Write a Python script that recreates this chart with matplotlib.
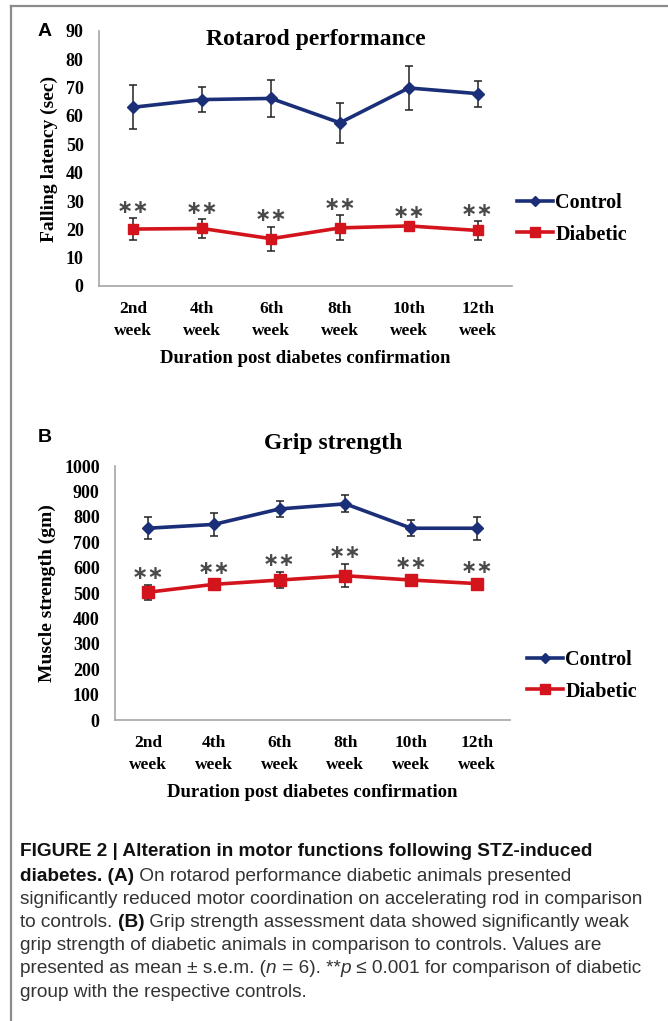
import matplotlib
matplotlib.use("Agg")
import matplotlib.pyplot as plt
from matplotlib.lines import Line2D

# data (mean, s.e.m.)
weeks = ["2nd\nweek", "4th\nweek", "6th\nweek", "8th\nweek", "10th\nweek", "12th\nweek"]

rota_control = [63.1, 65.8, 66.2, 57.6, 69.9, 67.9]
rota_control_err = [7.8, 4.5, 6.4, 7.0, 7.8, 4.6]
rota_diabetic = [20.1, 20.3, 16.7, 20.5, 21.2, 19.6]
rota_diabetic_err = [3.8, 3.2, 4.2, 4.4, 1.0, 3.3]

grip_control = [755, 770, 831, 851, 755, 755]
grip_control_err = [43, 45, 32, 34, 31, 45]
grip_diabetic = [503, 534, 551, 568, 551, 537]
grip_diabetic_err = [30, 18, 30, 45, 20, 20]

CONTROL_COLOR = "#1a2f78"
DIABETIC_COLOR = "#d3141c"
SERIF = "Liberation Serif"
CAPTION_FONT = "Liberation Sans"
CAPTION_SIZE = 13.7

caption_lines = [
    [("FIGURE 2 | Alteration in motor functions following STZ-induced", "bold", "normal")],
    [("diabetes. (A)", "bold", "normal"),
     (" On rotarod performance diabetic animals presented", "normal", "normal")],
    [("significantly reduced motor coordination on accelerating rod in comparison", "normal", "normal")],
    [("to controls. ", "normal", "normal"), ("(B)", "bold", "normal"),
     (" Grip strength assessment data showed significantly weak", "normal", "normal")],
    [("grip strength of diabetic animals in comparison to controls. Values are", "normal", "normal")],
    [("presented as mean \u00b1 s.e.m. (", "normal", "normal"), ("n", "normal", "italic"),
     (" = 6). **", "normal", "normal"), ("p", "normal", "italic"),
     (" \u2264 0.001 for comparison of diabetic", "normal", "normal")],
    [("group with the respective controls.", "normal", "normal")],
]

W, H = 668, 1021
fig = plt.figure(figsize=(W / 100, H / 100), dpi=100)


def fx(px):
    return px / W


def fy(py):
    return 1 - py / H


def draw_panel(ax, control, cerr, diab, derr, ymax, ystep, title, title_xy, ylabel,
               star_gap, legend_x, legend_y, ms_d, ms_s):
    x = list(range(len(weeks)))
    ax.errorbar(x, control, yerr=cerr, color=CONTROL_COLOR, lw=2.6, marker="D", ms=ms_d,
                ecolor="#222222", elinewidth=1.1, capsize=3, capthick=1.1, zorder=3)
    ax.errorbar(x, diab, yerr=derr, color=DIABETIC_COLOR, lw=2.6, marker="s", ms=ms_s,
                ecolor="#222222", elinewidth=1.1, capsize=3, capthick=1.1, zorder=3)
    for xi, m, e in zip(x, diab, derr):
        ax.text(xi, m + e + star_gap, "\u2217\u2217", ha="center", va="center", fontsize=14,
                color="#4a4a4a", family="DejaVu Sans", fontweight="bold")
    ax.set_xlim(-0.5, len(weeks) - 0.5)
    ax.set_ylim(0, ymax)
    ax.set_yticks(range(0, ymax + 1, ystep))
    ax.set_xticks(x)
    ax.set_xticklabels(weeks, fontsize=12.5, fontweight="bold", family=SERIF, linespacing=1.45)
    for lab in ax.get_yticklabels():
        lab.set_fontsize(13)
        lab.set_fontweight("bold")
        lab.set_family(SERIF)
    ax.tick_params(axis="y", length=0, pad=11)
    ax.tick_params(axis="x", length=0, pad=11)
    for s in ["top", "right"]:
        ax.spines[s].set_visible(False)
    for s in ["left", "bottom"]:
        ax.spines[s].set_color("#a6a6a6")
        ax.spines[s].set_linewidth(1.2)
    ax.text(title_xy[0], title_xy[1], title, transform=ax.transAxes, ha="center", va="center",
            fontsize=17, fontweight="bold", family=SERIF)
    ax.set_ylabel(ylabel, fontsize=14, fontweight="bold", family=SERIF, labelpad=6)
    ax.set_xlabel("Duration post diabetes confirmation", fontsize=13.5, fontweight="bold",
                  family=SERIF, labelpad=8.5)
    handles = [
        Line2D([], [], color=CONTROL_COLOR, lw=2.6, marker="D", ms=5),
        Line2D([], [], color=DIABETIC_COLOR, lw=2.6, marker="s", ms=7),
    ]
    fig.legend(handles, ["Control", "Diabetic"], loc="center left",
               bbox_to_anchor=(fx(legend_x), fy(legend_y)), frameon=False,
               prop={"family": SERIF, "weight": "bold", "size": 14.5},
               handlelength=1.8, handletextpad=0.1, labelspacing=0.55, borderpad=0,
               borderaxespad=0)


ax_a = fig.add_axes([fx(99), fy(286), fx(512 - 99), (286 - 31) / H])
draw_panel(ax_a, rota_control, rota_control_err, rota_diabetic, rota_diabetic_err,
           90, 10, "Rotarod performance", (0.525, 0.965), "Falling latency (sec)",
           3.9, 517, 219, 6, 7)

ax_b = fig.add_axes([fx(115), fy(720), fx(510 - 115), (720 - 466) / H])
draw_panel(ax_b, grip_control, grip_control_err, grip_diabetic, grip_diabetic_err,
           1000, 100, "Grip strength", (0.552, 1.09), "Muscle strength (gm)",
           45, 527, 676, 6.5, 8)

fig.text(fx(45), fy(31), "A", fontsize=14, fontweight="bold", family="Liberation Sans",
         ha="center", va="center")
fig.text(fx(45), fy(437), "B", fontsize=14, fontweight="bold", family="Liberation Sans",
         ha="center", va="center")

# grey frame (left and top only, as in the source crop)
fig.add_artist(Line2D([fx(11), fx(11)], [fy(6), 0], color="#8c8c8c", lw=1.6))
fig.add_artist(Line2D([fx(11), 1], [fy(6), fy(6)], color="#8c8c8c", lw=1.6))

# caption with mixed bold / italic runs
renderer = fig.canvas.get_renderer()


def run_width(text, weight, style):
    t = fig.text(0, 0, "x" + text + "x", family=CAPTION_FONT, fontsize=CAPTION_SIZE,
                 fontweight=weight, fontstyle=style)
    ref = fig.text(0, 0, "xx", family=CAPTION_FONT, fontsize=CAPTION_SIZE,
                   fontweight=weight, fontstyle=style)
    w = t.get_window_extent(renderer).width - ref.get_window_extent(renderer).width
    t.remove()
    ref.remove()
    return w


line_y = [852, 876, 899, 922, 945, 968, 992]
for segs, py in zip(caption_lines, line_y):
    px = 20
    for text, weight, style in segs:
        color = "#111111" if weight == "bold" else "#333333"
        fig.text(fx(px), fy(py), text, family=CAPTION_FONT, fontsize=CAPTION_SIZE,
                 fontweight=weight, fontstyle=style, color=color, va="center", ha="left")
        px += run_width(text, weight, style)

fig.savefig("out.png", dpi=100)
